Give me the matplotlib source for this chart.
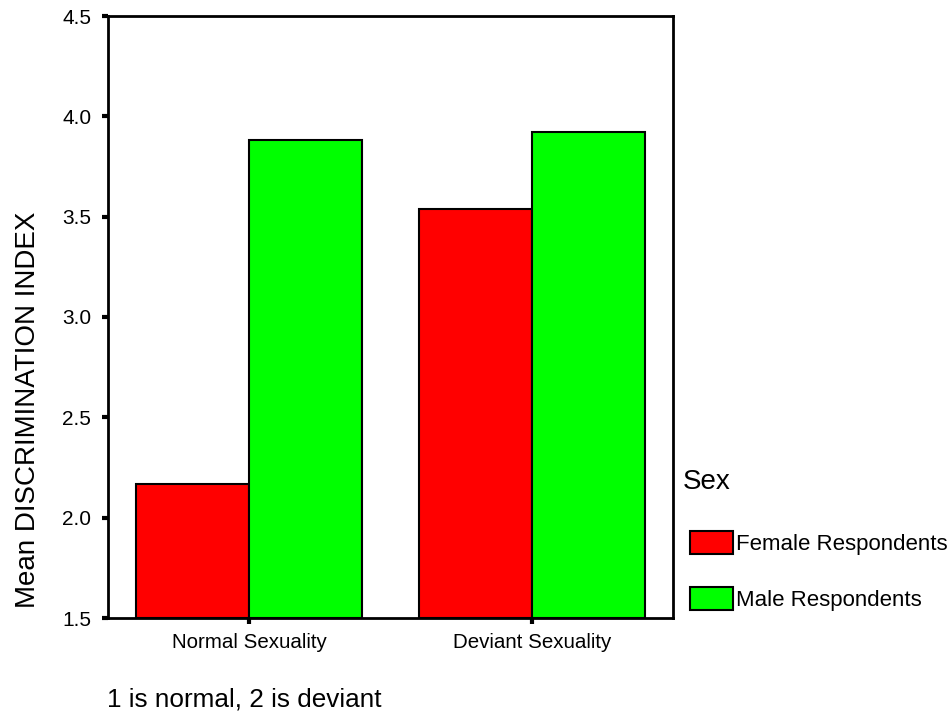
import matplotlib
matplotlib.use("Agg")
import matplotlib.pyplot as plt
import numpy as np
from matplotlib.patches import Patch

plt.rcParams['font.family'] = ['Liberation Sans', 'DejaVu Sans']

categories = ["Normal Sexuality", "Deviant Sexuality"]
female = [2.17, 3.54]
male = [3.88, 3.92]
series_names = ["Female Respondents", "Male Respondents"]
colors = ["#ff0000", "#00ff00"]
yticks = [1.5, 2.0, 2.5, 3.0, 3.5, 4.0, 4.5]

fig = plt.figure(figsize=(9.5, 7.23), dpi=100)
W, H = 950, 723
ax = fig.add_axes([108 / W, 1 - 618 / H, (673 - 108) / W, (618 - 16) / H])

x = np.arange(len(categories))
w = 0.4
ax.bar(x - w / 2, [v - 1.5 for v in female], w, bottom=1.5, color=colors[0],
       edgecolor="black", linewidth=1.5)
ax.bar(x + w / 2, [v - 1.5 for v in male], w, bottom=1.5, color=colors[1],
       edgecolor="black", linewidth=1.5)

ax.set_xlim(-0.5, 1.5)
ax.set_ylim(1.5, 4.5)
ax.set_yticks(yticks)
ax.set_yticklabels([f"{t:.1f}" for t in yticks], fontsize=15)
ax.set_xticks(x)
ax.set_xticklabels(categories, fontsize=14.8)
ax.tick_params(axis='both', direction='out', length=4, width=3, color='black')
ax.tick_params(axis='y', pad=8)
ax.tick_params(axis='x', pad=7)
for s in ax.spines.values():
    s.set_linewidth(2)

ax.set_ylabel("Mean DISCRIMINATION INDEX", fontsize=20)
ax.yaxis.set_label_coords(-0.118, 0.345)

fig.text(107 / W, 1 - 700 / H, "1 is normal, 2 is deviant", fontsize=18.8,
         ha='left', va='center')
fig.text(683 / W, 1 - 482 / H, "Sex", fontsize=20, ha='left', va='center')

handles = [Patch(facecolor=c, edgecolor='black', linewidth=1.5) for c in colors]
leg = fig.legend(handles, series_names, loc='upper left',
                 bbox_to_anchor=(690 / W, 1 - 531 / H), frameon=False,
                 fontsize=16, handlelength=1.95, handleheight=1.2,
                 handletextpad=0.1, labelspacing=1.45, borderaxespad=0,
                 borderpad=0)

fig.savefig("out.png", dpi=100)
